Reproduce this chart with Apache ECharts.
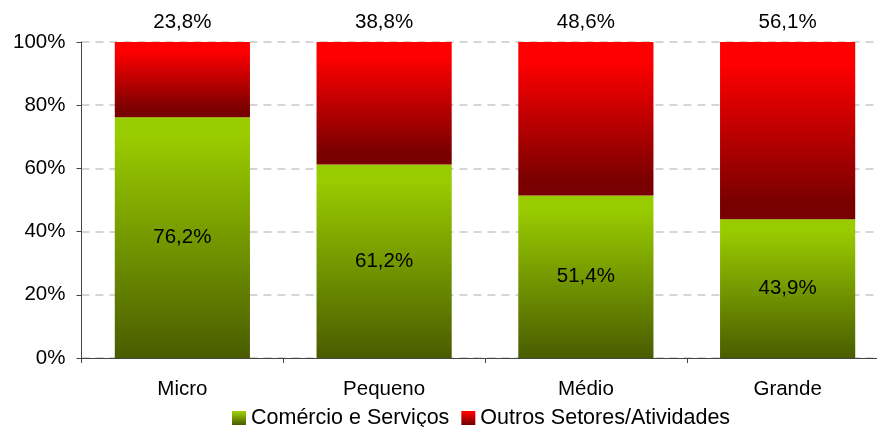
<!DOCTYPE html>
<html>
<head>
<meta charset="utf-8">
<script src="https://cdn.jsdelivr.net/npm/echarts@6/dist/echarts.min.js"></script>
<style>
html,body{margin:0;padding:0;background:#fff;}
#chart{width:877px;height:427px;}
</style>
</head>
<body>
<div id="chart"></div>
<script>
var categories = ['Micro', 'Pequeno', 'Médio', 'Grande'];
var comercioServicos = [76.2, 61.2, 51.4, 43.9];
var outrosSetores = [23.8, 38.8, 48.6, 56.1];
var seriesNames = ['Comércio e Serviços', 'Outros Setores/Atividades'];
var yTicks = { min: 0, max: 100, interval: 20 };

var FONT = 'Liberation Sans, Arial, sans-serif';
var FS = 20.5;

function fmt(v) { return v.toFixed(1).replace('.', ',') + '%'; }

var greenGrad = new echarts.graphic.LinearGradient(0, 0, 0, 1, [
  { offset: 0, color: '#99cc00' },
  { offset: 0.08, color: '#99cc00' },
  { offset: 1, color: '#4a5c00' }
]);
var redGrad = new echarts.graphic.LinearGradient(0, 0, 0, 1, [
  { offset: 0, color: '#ff0000' },
  { offset: 0.12, color: '#ff0000' },
  { offset: 0.9, color: '#7a0000' },
  { offset: 1, color: '#780000' }
]);

var chart = echarts.init(document.getElementById('chart'), null, { renderer: 'canvas' });
chart.setOption({
  animation: false,
  backgroundColor: '#ffffff',
  textStyle: { fontFamily: FONT },
  grid: { left: 81.5, width: 807, top: 42, height: 316, containLabel: false, outerBoundsMode: 'none' },
  legend: {
    top: 407,
    left: 232,
    padding: 0,
    itemWidth: 14,
    itemHeight: 14,
    itemGap: 12,
    icon: 'rect',
    textStyle: { fontFamily: FONT, fontSize: 21.5, color: '#000' },
    data: seriesNames
  },
  xAxis: {
    type: 'category',
    data: categories,
    axisLine: { lineStyle: { color: '#444', width: 1 } },
    axisTick: { show: true, length: 5, alignWithLabel: false, lineStyle: { color: '#444' } },
    axisLabel: { color: '#000', fontFamily: FONT, fontSize: FS, margin: 21 },
    splitLine: { show: false }
  },
  yAxis: {
    type: 'value',
    min: yTicks.min,
    max: yTicks.max,
    interval: yTicks.interval,
    axisLine: { show: true, lineStyle: { color: '#444', width: 1 } },
    axisTick: { show: true, length: 5, lineStyle: { color: '#444' } },
    axisLabel: { color: '#000', fontFamily: FONT, fontSize: FS, margin: 16, formatter: '{value}%' },
    splitLine: { show: true, lineStyle: { color: '#c8c8c8', type: [8, 6], width: 1.5 } }
  },
  series: [
    {
      name: seriesNames[0],
      type: 'bar',
      stack: 'total',
      data: comercioServicos,
      barCategoryGap: '33%',
      itemStyle: { color: greenGrad },
      label: {
        show: true,
        position: 'inside',
        color: '#000',
        fontFamily: FONT,
        fontSize: FS,
        formatter: function (p) { return fmt(p.value); }
      }
    },
    {
      name: seriesNames[1],
      type: 'bar',
      stack: 'total',
      data: outrosSetores,
      barCategoryGap: '33%',
      itemStyle: { color: redGrad },
      label: {
        show: true,
        position: 'top',
        distance: 9,
        color: '#000',
        fontFamily: FONT,
        fontSize: FS,
        formatter: function (p) { return fmt(p.value); }
      }
    }
  ]
});
</script>
</body>
</html>
